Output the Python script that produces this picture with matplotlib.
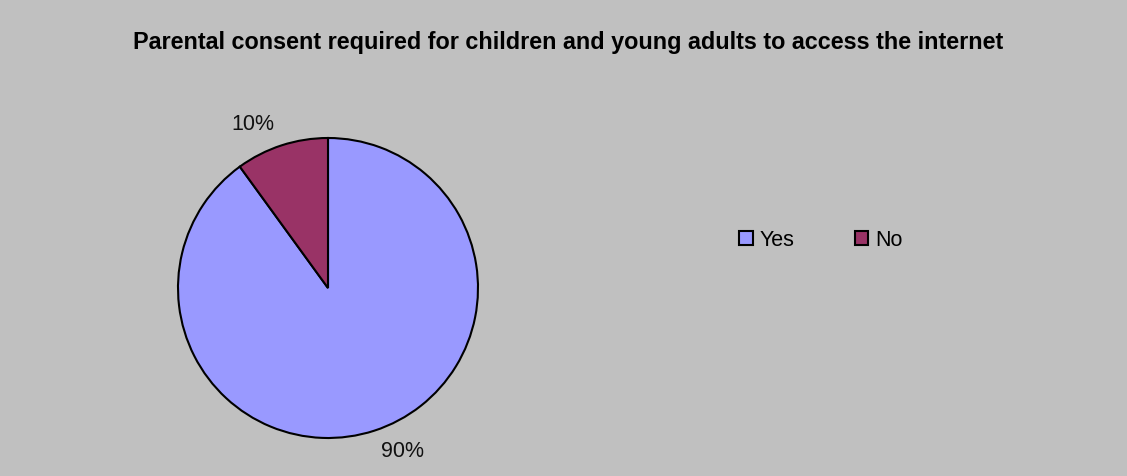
import numpy as np
import matplotlib.pyplot as plt

plt.rcParams['font.family'] = ['Liberation Sans', 'DejaVu Sans']

# data
labels = ['Yes', 'No']
shares = [90, 10]
colors = ['#9999FF', '#993366']
title = 'Parental consent required for children and young adults to access the internet'

W, H = 1127, 476
fig = plt.figure(figsize=(W / 100, H / 100), dpi=100, facecolor='#C0C0C0')

# pie area: centre (328, 288) px, radius 150 px
cx, cy, r = 328, 288, 150
ax = fig.add_axes([(cx - r) / W, (H - cy - r) / H, 2 * r / W, 2 * r / H])
ax.set_facecolor('none')

wedges, texts, autotexts = ax.pie(
    shares, colors=colors, startangle=90, counterclock=False,
    autopct='%1.0f%%', pctdistance=1.2, radius=1,
    wedgeprops=dict(edgecolor='black', linewidth=1.5),
    textprops=dict(fontsize=15.5, color='#111111'),
)
# nudge the percentage labels a little round the circle, like the original
for w, t in zip(wedges, autotexts):
    ang = np.deg2rad((w.theta1 + w.theta2) / 2 + 6.5)
    t.set_position((1.2 * np.cos(ang), 1.2 * np.sin(ang)))

ax.set_xlim(-1, 1)
ax.set_ylim(-1, 1)
ax.set_aspect('equal')

fig.text(0.5 + 5 / W, 1 - 43 / H, title, ha='center', va='center',
         fontsize=16.8, fontweight='bold', color='black')

fig.legend(wedges, labels, loc='center', bbox_to_anchor=(821 / W, 1 - 240 / H),
           ncol=2, frameon=False, fontsize=15.5, handlelength=0.62, handleheight=0.62,
           handletextpad=0.33, columnspacing=2.8)

fig.savefig('out.png', dpi=100, facecolor=fig.get_facecolor())
